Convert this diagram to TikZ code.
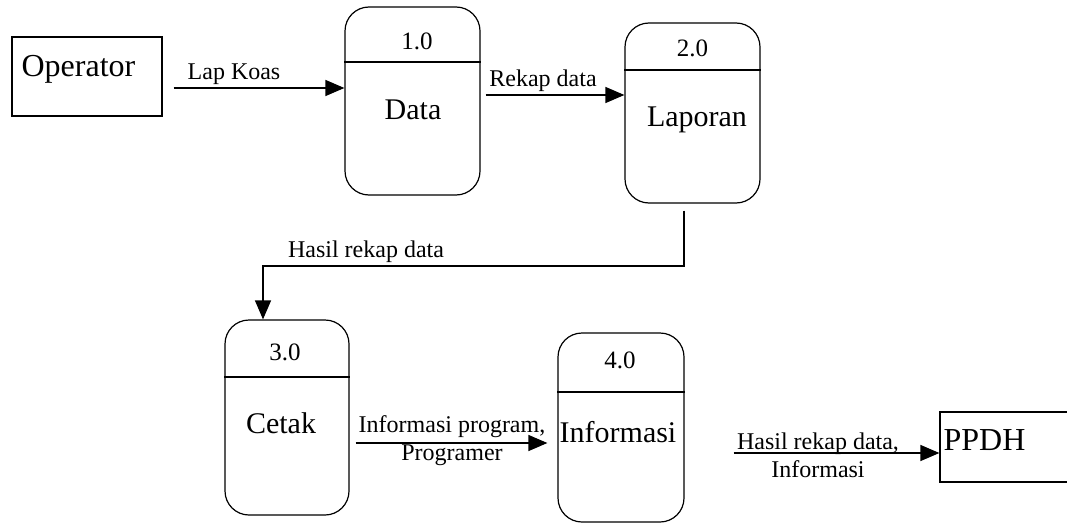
\documentclass[tikz,border=0pt]{standalone}
\usepackage{fontspec}
\setmainfont{Liberation Serif}
\usetikzlibrary{arrows.meta}

\begin{document}
\begin{tikzpicture}
  [x=1pt,y=-1pt,line width=1.2pt,
   proc/.style={draw,rounded corners=24pt,inner sep=0pt},
   ent/.style={draw,rectangle,inner sep=0pt},
   num/.style={anchor=base,font=\fontsize{25}{30}\selectfont},
   pname/.style={anchor=base,font=\fontsize{30}{36}\selectfont},
   ename/.style={anchor=base,font=\fontsize{32}{38}\selectfont},
   flow/.style={-{Triangle[length=19pt,width=16pt]}},
   lbl/.style={font=\fontsize{24}{28}\selectfont,align=center}]
  \useasboundingbox (0,0) rectangle (1067,524);

  % external entities
  \node[ent,minimum width=150,minimum height=79] (op) at (87,76.5) {};
  \node[ename] (optxt) at (78.5,77) {Operator};
  \node[ent,minimum width=150,minimum height=70] (pp) at (1015,447) {};
  \node[ename] (pptxt) at (984.5,450) {PPDH};

  % processes
  \node[proc,minimum width=135,minimum height=188] (p1) at (412.5,101) {};
  \node[proc,minimum width=135,minimum height=180] (p2) at (692.5,113) {};
  \node[proc,minimum width=124,minimum height=195] (p3) at (287,417.5) {};
  \node[proc,minimum width=126,minimum height=189] (p4) at (621,427.5) {};

  \foreach \p/\y in {p1/62,p2/70,p3/377,p4/392}
    \draw (\p.west |- 0,\y) -- (\p.east |- 0,\y);

  \node[num] (n1) at (417,50)  {1.0};
  \node[num] (n2) at (692.5,57) {2.0};
  \node[num] (n3) at (285,360) {3.0};
  \node[num] (n4) at (620,368) {4.0};

  \node[pname] (t1) at (413,120) {Data};
  \node[pname] (t2) at (697,127) {Laporan};
  \node[pname] (t3) at (281,433) {Cetak};
  \node[pname] (t4) at (618,442) {Informasi};

  % data flows
  \foreach \from/\to/\y/\a/\b in {op/p1/88/11/0,p1/p2/95/5/0,p3/p4/443/6/10,p4/pp/453/49/0}
    \draw[flow,shorten <=\a pt,shorten >=\b pt] (\from.east |- 0,\y) -- (\to.west |- 0,\y);
  \draw[flow] ([xshift=-8.5pt]p2.south) ++(0,7) |- (263,266) -- ([xshift=-24pt]p3.north);

  \node[lbl,anchor=base] (f1) at (234,80)  {Lap Koas};
  \node[lbl,anchor=base] (f2) at (543,87)  {Rekap data};
  \node[lbl,anchor=base] (f3) at (366,257) {Hasil rekap data};
  \node[lbl] (f4) at (452,441) {Informasi program,\\Programer};
  \node[lbl] (f5) at (818,455) {Hasil rekap data,\\Informasi};

\end{tikzpicture}
\end{document}
